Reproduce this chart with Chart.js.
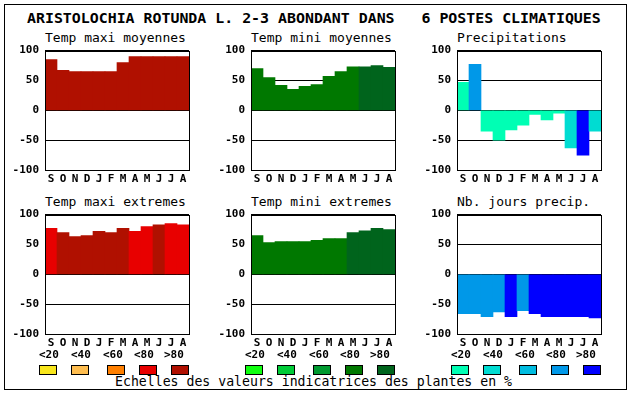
<!DOCTYPE html>
<html>
<head>
<meta charset="utf-8">
<script src="https://cdn.jsdelivr.net/npm/chart.js@4.4.0/dist/chart.umd.min.js"></script>
<style>
  body { margin: 0; background: #fff; }
  #page { position: relative; width: 630px; height: 394px; overflow: hidden; background: #fff;
          font-family: 'DejaVu Sans Mono', monospace; color: #000; }
  #frame { position: absolute; left: 4px; top: 4px; width: 623px; height: 386px;
           border: 1px solid #000; box-sizing: border-box; }
  .txt { position: absolute; white-space: pre; }
  .lbl { font-size: 11px; line-height: 11px; font-weight: bold; }
  .box { position: absolute; width: 18px; height: 10px; border: 1px solid #000; box-sizing: border-box; }
  canvas { position: absolute; }
</style>
</head>
<body>
<div id="page">
  <div id="frame"></div>
  <div class="txt" style="left:27px; top:11px; font-size:14.9px; line-height:15px; font-weight:bold;">ARISTOLOCHIA ROTUNDA L. 2-3 ABONDANT DANS   6 POSTES CLIMATIQUES</div>
  <div class="txt" style="left:115px; top:375px; font-size:13.2px; line-height:13px;">Echelles des valeurs indicatrices des plantes en %</div>
</div>
<script>
// ---------- Data ----------
const months = ['S', 'O', 'N', 'D', 'J', 'F', 'M', 'A', 'M', 'J', 'J', 'A'];
const scaleLabels = ['<20', '<40', '<60', '<80', '>80'];

// colour scales (class 0..4)
const redScale = ['#f8e61c', '#ffbe50', '#ff7f00', '#e80000', '#b01000'];
const greenScale = ['#10ff10', '#00cc38', '#009a30', '#007800', '#00641c'];
const blueScale = ['#00ffb4', '#00dcd2', '#00bce0', '#0098e8', '#0000ff'];

// Temp maxi moyennes
const maxiMoy = [85, 67, 65, 65, 65, 65, 80, 90, 90, 90, 90, 90];
const maxiMoyCls = [4, 4, 4, 4, 4, 4, 4, 4, 4, 4, 4, 4];
// Temp mini moyennes
const miniMoy = [70, 55, 42, 35, 40, 43, 57, 65, 73, 73, 75, 72];
const miniMoyCls = [3, 3, 3, 3, 3, 3, 3, 3, 3, 4, 4, 4];
// Precipitations
const precip = [47, 77, -35, -50, -33, -25, -7, -16, -5, -63, -75, -35];
const precipCls = [0, 3, 0, 0, 0, 0, 0, 0, 0, 1, 4, 1];
// Temp maxi extremes
const maxiExt = [77, 70, 63, 65, 72, 70, 77, 72, 80, 83, 85, 83];
const maxiExtCls = [3, 4, 4, 4, 4, 4, 4, 3, 3, 4, 3, 3];
// Temp mini extremes
const miniExt = [65, 53, 55, 55, 55, 57, 60, 60, 70, 73, 77, 75];
const miniExtCls = [3, 3, 3, 3, 3, 3, 3, 3, 4, 4, 4, 4];
// Nb. jours precip.
const joursPrecip = [-66, -66, -71, -63, -71, -61, -66, -71, -71, -71, -71, -73];
const joursPrecipCls = [3, 3, 3, 3, 4, 3, 4, 4, 4, 4, 4, 4];

const page = document.getElementById('page');
const tickFont = { family: "'DejaVu Sans Mono', monospace", size: 11, weight: 'bold' };

// black rectangle round the plot area
const frameBox = {
    id: 'frameBox',
    afterDraw(chart) {
        const { ctx, chartArea: a } = chart;
        ctx.save();
        ctx.strokeStyle = '#000';
        ctx.lineWidth = 1;
        ctx.strokeRect(Math.round(a.left) + 0.5, Math.round(a.top) + 0.5,
            Math.round(a.right - a.left), Math.round(a.bottom - a.top));
        ctx.restore();
    }
};

function addText(txt, x, y, size, cls) {
    const d = document.createElement('div');
    d.className = 'txt' + (cls ? ' ' + cls : '');
    d.style.left = x + 'px';
    d.style.top = y + 'px';
    if (size) { d.style.fontSize = size + 'px'; d.style.lineHeight = size + 'px'; }
    d.textContent = txt;
    page.appendChild(d);
}

function makePanel(title, x, y, values, cls, palette) {
    addText(title, x, y - 19, 13, null);

    const cv = document.createElement('canvas');
    cv.width = 45 + 144 + 12;
    cv.height = 12 + 120 + 22;
    cv.style.left = (x - 45) + 'px';
    cv.style.top = (y - 12) + 'px';
    page.appendChild(cv);

    new Chart(cv, {
        type: 'bar',
        data: {
            labels: months,
            datasets: [{
                data: values,
                backgroundColor: cls.map(c => palette[c]),
                borderWidth: 0,
                barPercentage: 1,
                categoryPercentage: 1
            }]
        },
        options: {
            responsive: false,
            animation: false,
            devicePixelRatio: 1,
            layout: { padding: { top: 12, right: 12, left: 0, bottom: 0 } },
            plugins: { legend: { display: false }, tooltip: { enabled: false } },
            scales: {
                x: {
                    z: 1,
                    grid: { display: false, drawTicks: false },
                    border: { display: true, color: '#000', width: 1 },
                    ticks: { color: '#000', font: tickFont, padding: 3, maxRotation: 0, autoSkip: false },
                    afterFit: s => { s.height = 22; }
                },
                y: {
                    z: 1,
                    min: -100,
                    max: 100,
                    ticks: { stepSize: 50, color: '#000', font: tickFont, padding: 6 },
                    grid: { color: '#000', lineWidth: 1, drawTicks: false },
                    border: { display: true, color: '#000', width: 1 },
                    afterFit: s => { s.width = 45; }
                }
            }
        },
        plugins: [frameBox]
    });
}

function makeLegend(x, palette) {
    const labelOffsets = [-6, 26, 58, 89, 119];
    const boxOffsets = [-6, 26, 62, 94, 126];
    scaleLabels.forEach((t, i) => {
        addText(t, x + labelOffsets[i], 349, null, 'lbl');
        const b = document.createElement('div');
        b.className = 'box';
        b.style.left = (x + boxOffsets[i]) + 'px';
        b.style.top = '365px';
        b.style.background = palette[i];
        page.appendChild(b);
    });
}

makePanel('Temp maxi moyennes', 45, 50, maxiMoy, maxiMoyCls, redScale);
makePanel('Temp mini moyennes', 251, 50, miniMoy, miniMoyCls, greenScale);
makePanel('Precipitations', 457, 50, precip, precipCls, blueScale);
makePanel('Temp maxi extremes', 45, 214, maxiExt, maxiExtCls, redScale);
makePanel('Temp mini extremes', 251, 214, miniExt, miniExtCls, greenScale);
makePanel('Nb. jours precip.', 457, 214, joursPrecip, joursPrecipCls, blueScale);

makeLegend(45, redScale);
makeLegend(251, greenScale);
makeLegend(457, blueScale);
</script>
</body>
</html>
